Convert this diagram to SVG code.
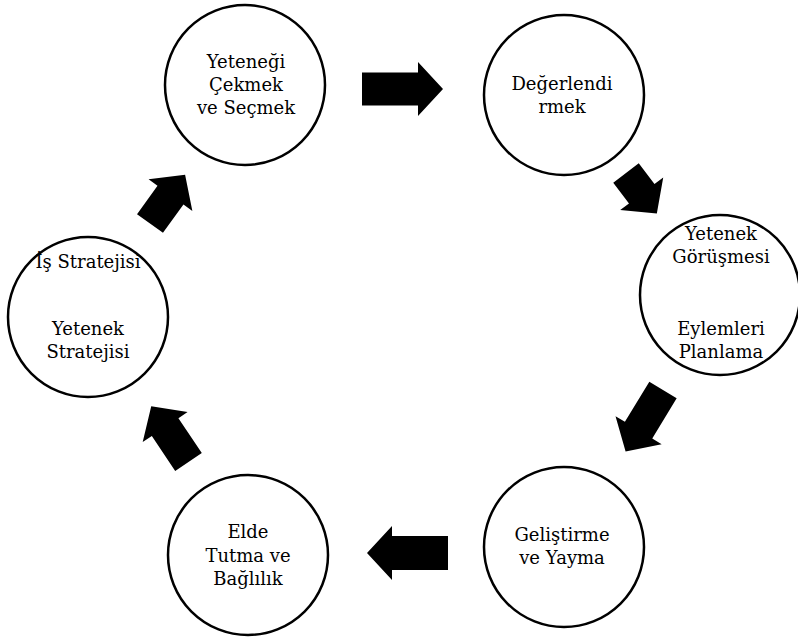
<svg xmlns="http://www.w3.org/2000/svg" width="798" height="642" viewBox="0 0 798 642">
<style>
.c{fill:#fff;stroke:#000;stroke-width:2.5}
.t{font-family:"DejaVu Serif","Liberation Serif",serif;font-size:18px;fill:#000;text-anchor:middle}
.a{fill:#000}
</style>
<rect width="798" height="642" fill="#fff"/>
<g id="connectors">
<path class="a" transform="translate(362,89)" d="M0,-16.5H56V-27L81,0L56,27V16.5H0Z"/>
<path class="a" transform="translate(626,173) rotate(52.8)" d="M0,-16H26V-27L51,0L26,27V16H0Z"/>
<path class="a" transform="translate(663,390) rotate(121.3)" d="M0,-16H47V-27L72,0L47,27V16H0Z"/>
<path class="a" transform="translate(448,553) rotate(180)" d="M0,-17H56V-27L81,0L56,27V17H0Z"/>
<path class="a" transform="translate(188.5,462) rotate(-123.8)" d="M0,-16H42V-27L67,0L42,27V16H0Z"/>
<path class="a" transform="translate(150,223.5) rotate(-54.2)" d="M0,-16H35V-27L60,0L35,27V16H0Z"/>
</g>
<g id="n1">
<circle class="c" cx="245" cy="85" r="80"/>
<text class="t" x="246" y="68">Yeteneği</text>
<text class="t" x="246" y="91">Çekmek</text>
<text class="t" x="246" y="114">ve Seçmek</text>
</g>
<g id="n2">
<circle class="c" cx="564" cy="95" r="80"/>
<text class="t" x="562" y="90">Değerlendi</text>
<text class="t" x="562" y="113">rmek</text>
</g>
<g id="n3">
<circle class="c" cx="720" cy="295" r="80"/>
<text class="t" x="721" y="240">Yetenek</text>
<text class="t" x="721" y="263">Görüşmesi</text>
<text class="t" x="721" y="335">Eylemleri</text>
<text class="t" x="721" y="358">Planlama</text>
</g>
<g id="n4">
<circle class="c" cx="564" cy="547" r="80"/>
<text class="t" x="562" y="541">Geliştirme</text>
<text class="t" x="562" y="564">ve Yayma</text>
</g>
<g id="n5">
<circle class="c" cx="248" cy="555" r="80"/>
<text class="t" x="248" y="538">Elde</text>
<text class="t" x="248" y="562">Tutma ve</text>
<text class="t" x="248" y="585">Bağlılık</text>
</g>
<g id="n6">
<circle class="c" cx="88" cy="317" r="80"/>
<text class="t" x="88" y="268">İş Stratejisi</text>
<text class="t" x="88" y="335">Yetenek</text>
<text class="t" x="88" y="358">Stratejisi</text>
</g>
</svg>
